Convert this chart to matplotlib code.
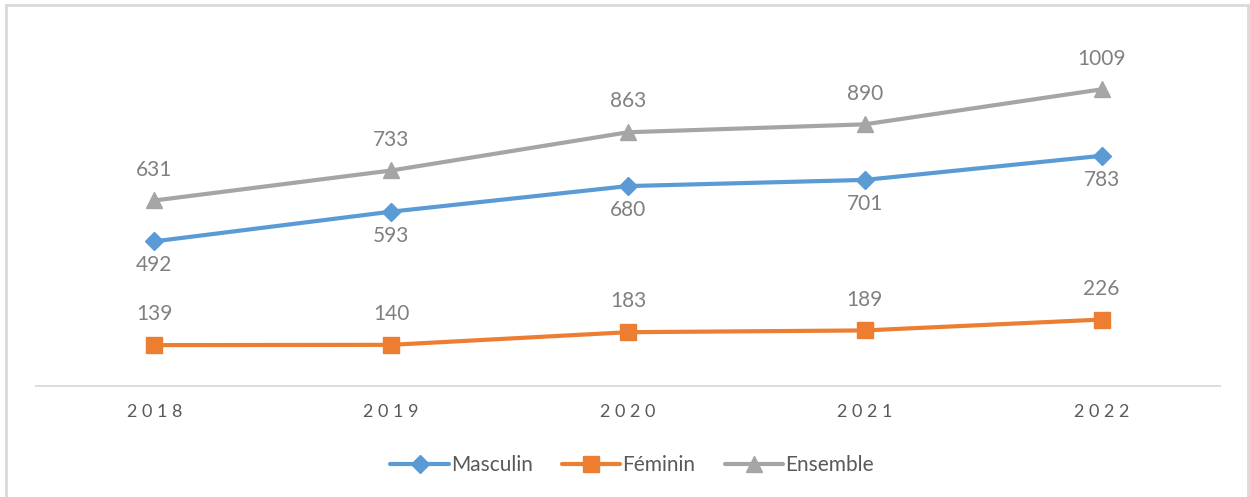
import matplotlib
matplotlib.use("Agg")
import matplotlib.pyplot as plt
from matplotlib.patches import Rectangle

years = ["2018", "2019", "2020", "2021", "2022"]
masculin = [492, 593, 680, 701, 783]
feminin = [139, 140, 183, 189, 226]
ensemble = [631, 733, 863, 890, 1009]

plt.rcParams['font.family'] = ['Lato', 'DejaVu Sans']

W, H = 1250, 497
fig = plt.figure(figsize=(W / 100, H / 100), dpi=100)

# border
fig.patches.append(Rectangle((6 / W, -0.05), (1248 - 6) / W, 1.05 - 5 / H,
                             transform=fig.transFigure, fill=False,
                             edgecolor='#d9d9d9', linewidth=2))

left, right = 36, 1220
top, bottom = 20, 386
ax = fig.add_axes([left / W, 1 - bottom / H, (right - left) / W, (bottom - top) / H])
x = list(range(len(years)))

lab_col = '#808080'
fs = 15

ax.plot(x, masculin, color='#5b9bd5', linewidth=3, marker='D', markersize=9,
        label='Masculin', solid_capstyle='round')
ax.plot(x, feminin, color='#ed7d31', linewidth=3, marker='s', markersize=12,
        label='Féminin', solid_capstyle='round')
ax.plot(x, ensemble, color='#a5a5a5', linewidth=3, marker='^', markersize=12,
        label='Ensemble', solid_capstyle='round')

for xi, v in zip(x, masculin):
    ax.annotate(str(v), (xi, v), xytext=(0, -10), textcoords='offset points',
                ha='center', va='top', fontsize=fs, color=lab_col)
for xi, v in zip(x, feminin):
    ax.annotate(str(v), (xi, v), xytext=(0, 15), textcoords='offset points',
                ha='center', va='bottom', fontsize=fs, color=lab_col)
for xi, v in zip(x, ensemble):
    ax.annotate(str(v), (xi, v), xytext=(0, 15), textcoords='offset points',
                ha='center', va='bottom', fontsize=fs, color=lab_col)

ax.set_xlim(-0.5, len(years) - 0.5)
ax.set_ylim(0, (bottom - top) / 0.294)
ax.set_xticks(x)
ax.set_xticklabels([" ".join(y) for y in years], fontsize=13, color='#595959')
ax.tick_params(axis='x', length=0, pad=13)
ax.set_yticks([])
for s in ['top', 'right', 'left']:
    ax.spines[s].set_visible(False)
ax.spines['bottom'].set_color('#d9d9d9')
ax.spines['bottom'].set_linewidth(1.3)

leg = fig.legend(loc='center', bbox_to_anchor=(632 / W, 1 - 465 / H), ncol=3,
                 frameon=False, fontsize=15, handlelength=2.8, handletextpad=0.1,
                 columnspacing=1.4, labelcolor='#595959')

fig.savefig('out.png', dpi=100)
